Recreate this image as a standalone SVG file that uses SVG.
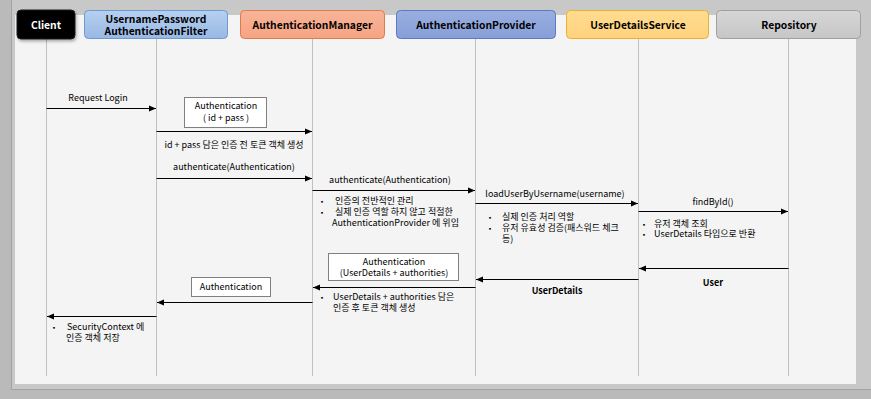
<svg xmlns="http://www.w3.org/2000/svg" width="871" height="399" viewBox="0 0 871 399">
<style>
  text { font-family: "Noto Sans CJK KR", "Noto Sans", sans-serif; fill: #000; }
  .hd { font-size: 10.3px; font-weight: bold; text-anchor: middle; }
  .lbl { font-size: 9px; text-anchor: middle; }
  .blb { font-size: 9px; font-weight: bold; text-anchor: middle; }
  .note { font-size: 9px; }
  .bul { font-size: 6px; }
  .life { stroke: #c0c0c0; stroke-width: 1; fill: none; }
  .msg { stroke: #000; stroke-width: 1; fill: none; marker-end: url(#arr); }
  .box { fill: #fff; stroke: #808080; stroke-width: 1; }
</style>
<defs>
  <marker id="arr" markerUnits="userSpaceOnUse" markerWidth="8" markerHeight="8" viewBox="0 0 8 8" refX="7" refY="4" orient="auto">
    <path d="M0,1 L7,4 L0,7 z" fill="#000"/>
  </marker>
  <filter id="sh" x="-10%" y="-20%" width="130%" height="160%">
    <feDropShadow dx="1" dy="2" stdDeviation="1.5" flood-color="#000" flood-opacity="0.3"/>
  </filter>
  <linearGradient id="gBlue" x1="0" y1="0" x2="0" y2="1"><stop offset="0" stop-color="#b6d0f0"/><stop offset="1" stop-color="#98b8e4"/></linearGradient>
  <linearGradient id="gOrange" x1="0" y1="0" x2="0" y2="1"><stop offset="0" stop-color="#f8b498"/><stop offset="1" stop-color="#f6a482"/></linearGradient>
  <linearGradient id="gIndigo" x1="0" y1="0" x2="0" y2="1"><stop offset="0" stop-color="#9aaee0"/><stop offset="1" stop-color="#869fd8"/></linearGradient>
  <linearGradient id="gYellow" x1="0" y1="0" x2="0" y2="1"><stop offset="0" stop-color="#ffdc90"/><stop offset="1" stop-color="#ffd27e"/></linearGradient>
  <linearGradient id="gGray" x1="0" y1="0" x2="0" y2="1"><stop offset="0" stop-color="#d6d6d6"/><stop offset="1" stop-color="#c6c6c6"/></linearGradient>
</defs>

<!-- background frame -->
<rect x="0" y="0" width="871" height="399" fill="#bababa"/>
<rect x="12" y="0" width="859" height="389" fill="#c8c8c8"/>
<line x1="11.5" y1="0" x2="11.5" y2="390" stroke="#a4a4a4"/>
<line x1="11" y1="389.5" x2="871" y2="389.5" stroke="#a4a4a4"/>
<rect x="15" y="15" width="841" height="369" fill="#f4f4f4"/>

<!-- participants -->
<g id="client">
  <line class="life" x1="46.5" y1="39" x2="46.5" y2="376"/>
  <rect x="17" y="10" width="58" height="29" rx="4" fill="#000" stroke="#222" filter="url(#sh)"/>
  <text class="hd" x="46" y="28.5" style="fill:#fff">Client</text>
</g>
<g id="filter">
  <line class="life" x1="156.5" y1="39" x2="156.5" y2="376"/>
  <rect x="84.5" y="10.5" width="143" height="28" rx="4" fill="url(#gBlue)" stroke="#6c9bd2"/>
  <text class="hd" x="156" y="22.5">UsernamePassword</text>
  <text class="hd" x="156" y="35">AuthenticationFilter</text>
</g>
<g id="manager">
  <line class="life" x1="312.5" y1="39" x2="312.5" y2="376"/>
  <rect x="240.5" y="10.5" width="144" height="28" rx="4" fill="url(#gOrange)" stroke="#e07a4c"/>
  <text class="hd" x="312.5" y="28.5">AuthenticationManager</text>
</g>
<g id="provider">
  <line class="life" x1="475.5" y1="39" x2="475.5" y2="376"/>
  <rect x="396.5" y="10.5" width="159" height="28" rx="4" fill="url(#gIndigo)" stroke="#5a7ac2"/>
  <text class="hd" x="476" y="28.5">AuthenticationProvider</text>
</g>
<g id="userDetailsService">
  <line class="life" x1="638.5" y1="39" x2="638.5" y2="376"/>
  <rect x="566.5" y="10.5" width="142" height="28" rx="4" fill="url(#gYellow)" stroke="#e8b230"/>
  <text class="hd" x="638" y="28.5">UserDetailsService</text>
</g>
<g id="repository">
  <line class="life" x1="788.5" y1="39" x2="788.5" y2="376"/>
  <rect x="716.5" y="10.5" width="144" height="28" rx="4" fill="url(#gGray)" stroke="#a0a0a0"/>
  <text class="hd" x="789" y="28.5">Repository</text>
</g>

<!-- token boxes -->
<g id="authTokenBefore">
  <rect class="box" x="184.5" y="97.5" width="82" height="30"/>
  <text class="lbl" x="226" y="108.5">Authentication</text>
  <text class="lbl" x="226" y="121">( id + pass )</text>
</g>
<g id="authTokenAfter">
  <rect class="box" x="328.5" y="253.5" width="130" height="27"/>
  <text class="lbl" x="394" y="264.5">Authentication</text>
  <text class="lbl" x="394" y="275.5">(UserDetails +  authorities)</text>
</g>
<g id="authTokenReturn">
  <rect class="box" x="191.5" y="277.5" width="79" height="19"/>
  <text class="lbl" x="231" y="290">Authentication</text>
</g>

<!-- connectors -->
<g id="connectors">
  <line class="msg" x1="46.5" y1="108.5" x2="156" y2="108.5"/>
  <text class="lbl" x="98" y="101">Request Login</text>

  <line class="msg" x1="156.5" y1="131.5" x2="312" y2="131.5"/>
  <text class="lbl" x="234" y="148">id + pass 담은 인증 전 토큰 객체 생성</text>

  <line class="msg" x1="156.5" y1="178.5" x2="312" y2="178.5"/>
  <text class="lbl" x="234" y="170">authenticate(Authentication)</text>

  <line class="msg" x1="312.5" y1="190.5" x2="475" y2="190.5"/>
  <text class="lbl" x="390" y="183">authenticate(Authentication)</text>

  <line class="msg" x1="475.5" y1="203.5" x2="638" y2="203.5"/>
  <text class="lbl" x="555" y="196.5">loadUserByUsername(username)</text>

  <line class="msg" x1="638.5" y1="211.5" x2="788" y2="211.5"/>
  <text class="lbl" x="713" y="204.5">findById()</text>

  <line class="msg" x1="788.5" y1="268.5" x2="639" y2="268.5"/>
  <text class="blb" x="713" y="286">User</text>

  <line class="msg" x1="638.5" y1="279.5" x2="476" y2="279.5"/>
  <text class="blb" x="557" y="294">UserDetails</text>

  <line class="msg" x1="475.5" y1="287.5" x2="313" y2="287.5"/>
  <line class="msg" x1="312.5" y1="302.5" x2="157" y2="302.5"/>
  <line class="msg" x1="156.5" y1="316.5" x2="47" y2="316.5"/>
</g>

<!-- notes -->
<g id="managerNote">
  <text class="bul" x="319" y="203.5">▪</text>
  <text class="note" x="335" y="204">인증의 전반적인 관리</text>
  <text class="bul" x="319" y="214.5">▪</text>
  <text class="note" x="335" y="215">실제 인증 역할 하지 않고 적절한</text>
  <text class="note" x="332" y="226">AuthenticationProvider 에 위임</text>
</g>
<g id="providerNote">
  <text class="bul" x="487" y="219.5">▪</text>
  <text class="note" x="502" y="220">실제 인증 처리 역할</text>
  <text class="bul" x="487" y="230.5">▪</text>
  <text class="note" x="502" y="231">유저 유효성 검증(패스워드 체크</text>
  <text class="note" x="502" y="242">등)</text>
</g>
<g id="udsNote">
  <text class="bul" x="641" y="226.5">▪</text>
  <text class="note" x="654" y="227">유저 객체 조회</text>
  <text class="bul" x="641" y="236.5">▪</text>
  <text class="note" x="654" y="237">UserDetails 타입으로 반환</text>
</g>
<g id="afterNote">
  <text class="bul" x="319" y="299.5">▪</text>
  <text class="note" x="333" y="300">UserDetails +  authorities 담은</text>
  <text class="note" x="333" y="311">인증 후 토큰 객체 생성</text>
</g>
<g id="clientNote">
  <text class="bul" x="51" y="329.5">▪</text>
  <text class="note" x="67" y="330">SecurityContext 에</text>
  <text class="note" x="66" y="341">인증 객체 저장</text>
</g>
</svg>
